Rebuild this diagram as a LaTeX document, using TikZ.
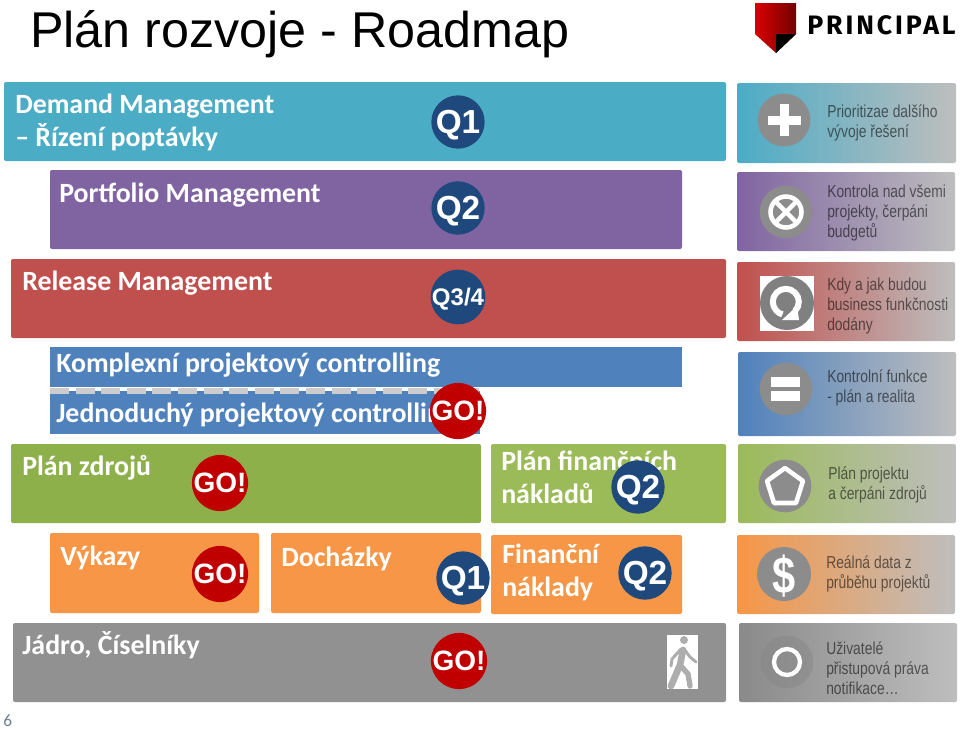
\documentclass[tikz,border=0pt]{standalone}
\usepackage{fontspec}
\setmainfont{Liberation Sans}
\newfontfamily\libfont{Liberation Sans}
\newfontfamily\carfont{Carlito}
\newfontfamily\nrwfont[FakeStretch=0.8]{Liberation Sans}
\newfontfamily\logofont[LetterSpace=11]{Fira Sans}
\definecolor{cteal}{HTML}{4BACC6}
\definecolor{cpurple}{HTML}{8064A2}
\definecolor{cred}{HTML}{C0504D}
\definecolor{cblue}{HTML}{4F81BD}
\definecolor{cgreen}{HTML}{8DB04B}
\definecolor{cgreenb}{HTML}{9BBB59}
\definecolor{corange}{HTML}{F79646}
\definecolor{cgray}{HTML}{919191}
\definecolor{cend}{HTML}{BEBEBE}
\definecolor{cicon}{HTML}{8C8C8C}
\definecolor{cq}{HTML}{1F497D}
\definecolor{cgo}{HTML}{C00000}
\definecolor{cpage}{HTML}{6F7F8F}
\tikzset{
  x=0.75pt,y=-0.75pt,
  bar/.style={rounded corners=1.5pt},
  head/.style={anchor=base west,text=white,inner sep=0pt,font=\carfont\fontsize{20.9}{21}\selectfont\bfseries},
  badge/.style={circle,inner sep=0pt,minimum size=40pt,text depth=0pt,text=white,font=\libfont\fontsize{25}{25}\selectfont\bfseries},
  qbadge/.style={badge,fill=cq},
  gobadge/.style={badge,fill=cgo,font=\libfont\fontsize{21}{21}\selectfont\bfseries},
  note/.style={anchor=west,inner sep=0pt,align=left,text=black,text opacity=0.55,font=\nrwfont\fontsize{13}{15}\selectfont},
  icondisc/.style={circle,inner sep=0pt,minimum size=39.5pt,fill=cicon},
  iconline/.style={draw=white,line width=3.4pt},
}
\begin{document}
\begin{tikzpicture}
\useasboundingbox (0,0) rectangle (960,729);
\fill[white] (0,0) rectangle (960,729);
% title
\node[anchor=base west,inner sep=0pt,font=\libfont\fontsize{37.7}{38}\selectfont] (title) at (30,47) {Plán rozvoje - Roadmap};
% logo
\shade[left color=red!85!black,right color=red!45!black] (755,3) -- (796,3) -- (796,34) -- (776,53) -- (755,34) -- cycle;
\fill[black] (776,34) -- (796,34) -- (776,53) -- cycle;
\node[anchor=base west,inner sep=0pt,font=\logofont\fontsize{20}{20}\selectfont\bfseries] (logo) at (807,34) {PRINCIPAL};
% main bars
\fill[bar,cteal] (4,82) rectangle (726,161);
\fill[bar,cpurple] (50,170) rectangle (682,249);
\fill[bar,cred] (11,259) rectangle (726,338);
\fill[cblue] (50,347) rectangle (682,387);
\fill[cblue] (50,391) rectangle (480,434);
\foreach \i in {0,...,16}{
  \fill[white] ({68+25.6*\i},388) rectangle ({75+25.6*\i},391);
  \fill[black!20] ({50+25.6*\i},388) rectangle ({min(69+25.6*\i,480)},394);
}
\fill[bar,cgreen] (11,444) rectangle (481,523);
\fill[bar,cgreenb] (491,444) rectangle (726,523);
\fill[bar,corange] (50,533) rectangle (259,613);
\fill[bar,corange] (271,533) rectangle (481,613);
\fill[bar,corange] (491,535) rectangle (682,614);
\fill[bar,cgray] (13,623) rectangle (726,702);
% bar labels
\node[head] (t1) at (15,113) {Demand Management};
\node[head] (t1b) at (15,146) {– Řízení poptávky};
\node[head] (t2) at (59,202) {Portfolio Management};
\node[head] (t3) at (22,290) {Release Management};
\node[head] (t4) at (56,372) {Komplexní projektový controlling};
\node[head] (t5) at (56,422) {Jednoduchý projektový controlling};
\node[head] (t6) at (22,475) {Plán zdrojů};
\node[head] (t7) at (501,470) {Plán finančních};
\node[head] (t7b) at (501,503) {nákladů};
\node[head] (t8) at (60,565) {Výkazy};
\node[head] (t9) at (281,566) {Docházky};
\node[head] (t10) at (502,563) {Finanční};
\node[head] (t10b) at (502,596) {náklady};
\node[head] (t11) at (22,654) {Jádro, Číselníky};
% badges
\node[qbadge] (q1) at (458,122) {Q1};
\node[qbadge] (q2) at (458,208) {Q2};
\node[qbadge,font=\libfont\fontsize{18}{18}\selectfont\bfseries] (q34) at (458,297) {Q3/4};
\node[gobadge] (go1) at (458,411) {GO!};
\node[gobadge] (go2) at (220,483) {GO!};
\node[qbadge] (q3) at (638,487) {Q2};
\node[gobadge] (go3) at (220,574) {GO!};
\node[qbadge] (q4) at (463,578) {Q1};
\node[qbadge] (q5) at (645,573) {Q2};
\node[gobadge] (go4) at (459,661) {GO!};
% walker
\fill[white] (667,635) rectangle (698,689);
\fill[black!32] (684,640) circle (4);
\draw[black!32,line width=5pt,line cap=round,line join=round] (683,650) -- (680,665) -- (671,686);
\draw[black!32,line width=4pt,line cap=round,line join=round] (680,665) -- (688,674) -- (690,686);
\draw[black!32,line width=2.2pt,line cap=round,line join=round] (684,649) -- (690,657) -- (696,662);
\draw[black!32,line width=2.2pt,line cap=round,line join=round] (681,649) -- (672,659) -- (671,666);
% right panels
\shade[bar,left color=cteal,right color=cend] (737,83) rectangle (956,163);
\shade[bar,left color=cpurple,right color=cend] (737,172) rectangle (955,251);
\shade[bar,left color=cred,right color=cend] (737,262) rectangle (955,341);
\shade[bar,left color=cblue,right color=cend] (738,352) rectangle (956,436);
\shade[bar,left color=cgreenb,right color=cend] (738,444) rectangle (956,523);
\shade[bar,left color=corange,right color=cend] (737,535) rectangle (955,614);
\shade[bar,left color=cgray!95!black,right color=cend] (739,623) rectangle (957,702);
% panel notes
\node[note] (n1) at (827,123) {Prioritizae dalšího\\vývoje řešení};
\node[note] (n2) at (827,213) {Kontrola nad všemi\\projekty, čerpáni\\budgetů};
\node[note] (n3) at (827,306) {Kdy a jak budou\\business funkčnosti\\dodány};
\node[note] (n4) at (827,388) {Kontrolní funkce\\-  plán a realita};
\node[note] (n5) at (828,485) {Plán projektu\\a čerpáni zdrojů};
\node[note] (n6) at (826,574) {Reálná data z\\průběhu projektů};
\node[note] (n7) at (826,668) {Uživatelé\\přistupová práva\\notifikace…};
% icon 1: plus
\node[icondisc] (i1) at (784,120) {};
\fill[white] (768,116) rectangle (801,125);
\fill[white] (780,104) rectangle (789,136);
% icon 2: crossed circle
\node[icondisc] (i2) at (786,212) {};
\draw[iconline] (i2.center) circle (15.5);
\draw[iconline] (775,201) -- (797,223);
\draw[iconline] (775,223) -- (797,201);
% icon 3: loop
\fill[white] (760,276) rectangle (814,331);
\node[icondisc,fill=black!50,minimum size=40.5pt] (i3) at (787,303) {};
\draw[white,line width=4.5pt] (795,311) arc[start angle=45,end angle=-255,radius=13];
\fill[white] (782,320) -- (799,320) -- (797,306) -- cycle;
% icon 4: equals
\node[icondisc] (i4) at (786,389) {};
\fill[white] (771,377) rectangle (800,387);
\fill[white] (771,391) rectangle (800,401);
% icon 5: pentagon
\node[icondisc] (i5) at (785,486) {};
\draw[iconline,line join=round] (785,468) -- (803,481) -- (796,503) -- (774,503) -- (767,481) -- cycle;
% icon 6: dollar
\node[icondisc,minimum size=40.5pt,text=white,text depth=0pt,font=\libfont\fontsize{39}{39}\selectfont\bfseries] (i6) at (784,574) {\scalebox{0.8}[1]{\$}};
% icon 7: ring
\node[icondisc,fill=black!48,opacity=0.45] (i7) at (787,662) {};
\draw[white,line width=3.2pt] (i7.center) circle (13);
% page number
\node[anchor=base west,inner sep=0pt,text=cpage,font=\carfont\fontsize{13}{13}\selectfont] (page) at (3,726) {6};
\end{tikzpicture}
\end{document}
